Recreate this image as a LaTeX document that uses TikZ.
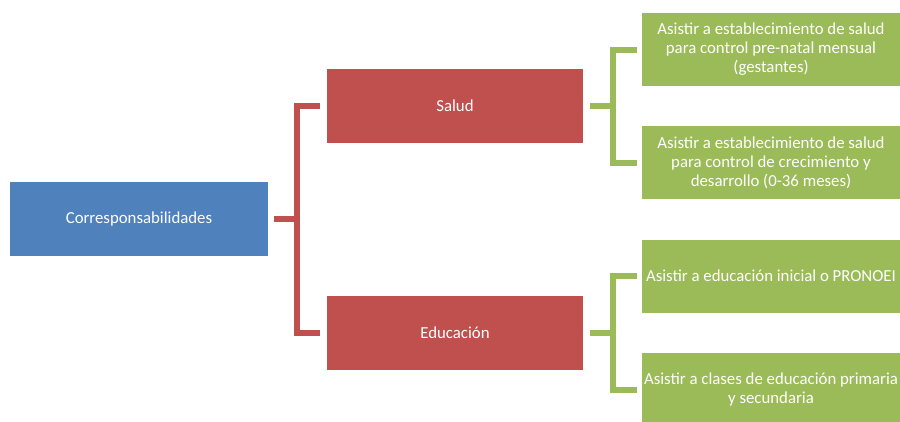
\documentclass[tikz,border=0pt]{standalone}
\usepackage{fontspec}
\setmainfont{Carlito}
\definecolor{boxblue}{HTML}{4F81BD}
\definecolor{boxred}{HTML}{C0504D}
\definecolor{boxgreen}{HTML}{9BBB59}
\begin{document}
\begin{tikzpicture}[x=1pt,y=-1pt,
  card/.style={fill=#1, draw=none, text=white, align=center,
    minimum width=257pt, minimum height=74pt, inner sep=0pt,
    font=\fontsize{16.8}{19}\selectfont},
  redline/.style={draw=boxred, line width=6pt, line join=miter},
  greenline/.style={draw=boxgreen, line width=6pt, line join=miter}]
\useasboundingbox (0,0) rectangle (900,421);
\clip (0,0) rectangle (900,421);

% root and first level
\node[card=boxblue, minimum width=258pt] (corr) at (139,219) {Corresponsabilidades};
\node[card=boxred, minimum width=256pt] (salud) at (455,106) {Salud};
\node[card=boxred, minimum width=256pt] (educ) at (455,333) {Educación};

% second level
\node[card=boxgreen, minimum width=258pt, minimum height=73pt] (g1) at (771,49.5)
  {Asistir a establecimiento de salud\\para control pre-natal mensual\\(gestantes)};
\node[card=boxgreen, minimum width=258pt, minimum height=73pt] (g2) at (771,162.5)
  {Asistir a establecimiento de salud\\para control de crecimiento y\\desarrollo (0-36 meses)};
\node[card=boxgreen, minimum width=258pt, minimum height=73pt] (g3) at (771,276)
  {Asistir a educación inicial o PRONOEI};
\node[card=boxgreen, minimum width=258pt, minimum height=73pt] (g4) at (771,389.5)
  {Asistir a clases de educación primaria\\y secundaria};

% bracket joints
\coordinate (rj) at (297,219);
\coordinate (sj) at (613,106);
\coordinate (ej) at (613,333);

% red bracket
\draw[redline] ([xshift=6pt]corr.east) -- (rj);
\draw[redline] ([xshift=-7pt]salud.west) -| (rj) |- ([xshift=-7pt]educ.west);

% green brackets
\draw[greenline] ([xshift=7pt]salud.east) -- (sj);
\draw[greenline] ([xshift=-5pt]g1.west) -| (sj) |- ([xshift=-5pt]g2.west);
\draw[greenline] ([xshift=7pt]educ.east) -- (ej);
\draw[greenline] ([xshift=-5pt]g3.west) -| (ej) |- ([xshift=-5pt]g4.west);
\end{tikzpicture}
\end{document}
